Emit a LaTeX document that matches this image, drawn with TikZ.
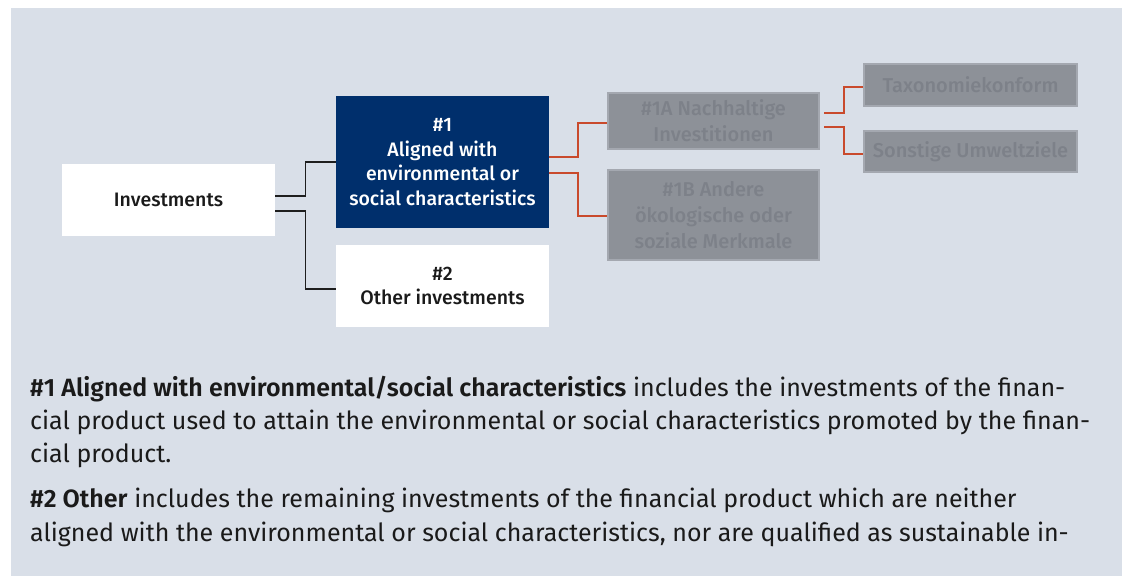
\documentclass[tikz,border=0pt]{standalone}
\usepackage{fontspec}
\setmainfont{Fira Sans}[BoldFont={* SemiBold}]
\newfontfamily\medfont{Fira Sans}[UprightFont={* Medium}]
\definecolor{panel}{HTML}{D9DFE8}
\definecolor{navy}{HTML}{002F6C}
\definecolor{greybox}{HTML}{8D9198}
\definecolor{greytext}{HTML}{7D8189}
\definecolor{redline}{HTML}{C94A2C}
\definecolor{blackline}{HTML}{1E1E1E}
\definecolor{txt}{HTML}{1A1A1A}
\begin{document}
\begin{tikzpicture}[x=1pt,y=-1pt,
  box/.style={inner sep=0pt, align=center, font=\medfont\fontsize{19.5}{24.5}\selectfont},
  whitebox/.style={box, fill=white, text=txt},
  navybox/.style={box, fill=navy, text=white},
  gbox/.style={box, fill=greybox, draw=greybox!70!panel, line width=2pt, text=greytext, font=\medfont\fontsize{20}{26}\selectfont},
  blk/.style={draw=blackline, line width=1.4pt},
  redc/.style={draw=redline, line width=2pt},
  para/.style={anchor=base west, inner sep=0pt, text=txt, font=\fontsize{25}{30}\selectfont}
]
\useasboundingbox (0,0) rectangle (1125,576);
\fill[panel] (11,8) rectangle (1122,576);

\node[whitebox, minimum width=213pt, minimum height=72pt] (inv) at (168.5,200) {Investments};
\node[navybox, minimum width=213pt, minimum height=132pt] (a1) at (442.5,162) {\#1\\Aligned with\\environmental or\\social characteristics};
\node[whitebox, minimum width=213pt, minimum height=82pt] (a2) at (442.5,286) {\#2\\Other investments};

\node[gbox, minimum width=211pt, minimum height=56pt] (b1) at (713.5,121) {\#1A Nachhaltige\\Investitionen};
\node[gbox, minimum width=211pt, minimum height=90pt] (b2) at (713.5,215) {\#1B Andere\\ökologische oder\\soziale Merkmale};
\node[gbox, minimum width=213pt, minimum height=42pt] (c1) at (970.5,85) {Taxonomiekonform};
\node[gbox, minimum width=213pt, minimum height=41pt] (c2) at (970.5,151.5) {Sonstige Umweltziele};

\draw[blk] ([yshift=4pt]inv.east) -- ++(30,0) |- (a1.west);
\draw[blk] ([yshift=-11pt]inv.east) -- ++(30,0) |- ([yshift=-3pt]a2.west);
\draw[redc] ([yshift=5pt]a1.east) -- ++(29,0) |- ([yshift=-2pt]b1.west);
\draw[redc] ([yshift=-11pt]a1.east) -- ++(29,0) |- ([yshift=-1pt]b2.west);
\draw[redc] ([yshift=8pt,xshift=4pt]b1.east) -- ++(20,0) |- ([yshift=-2pt]c1.west);
\draw[redc] ([yshift=-6pt,xshift=4pt]b1.east) -- ++(20,0) |- ([yshift=-2.5pt]c2.west);

\node[para] (l1) at (30,396) {\textbf{\#1 Aligned with environmental/social characteristics} includes the investments of the finan-};
\node[para] (l2) at (30,429) {cial product used to attain the environmental or social characteristics promoted by the finan-};
\node[para] (l3) at (30,462) {cial product.};
\node[para] (l4) at (30,507) {\textbf{\#2 Other} includes the remaining investments of the financial product which are neither};
\node[para] (l5) at (30,541) {aligned with the environmental or social characteristics, nor are qualified as sustainable in-};
\end{tikzpicture}
\end{document}
